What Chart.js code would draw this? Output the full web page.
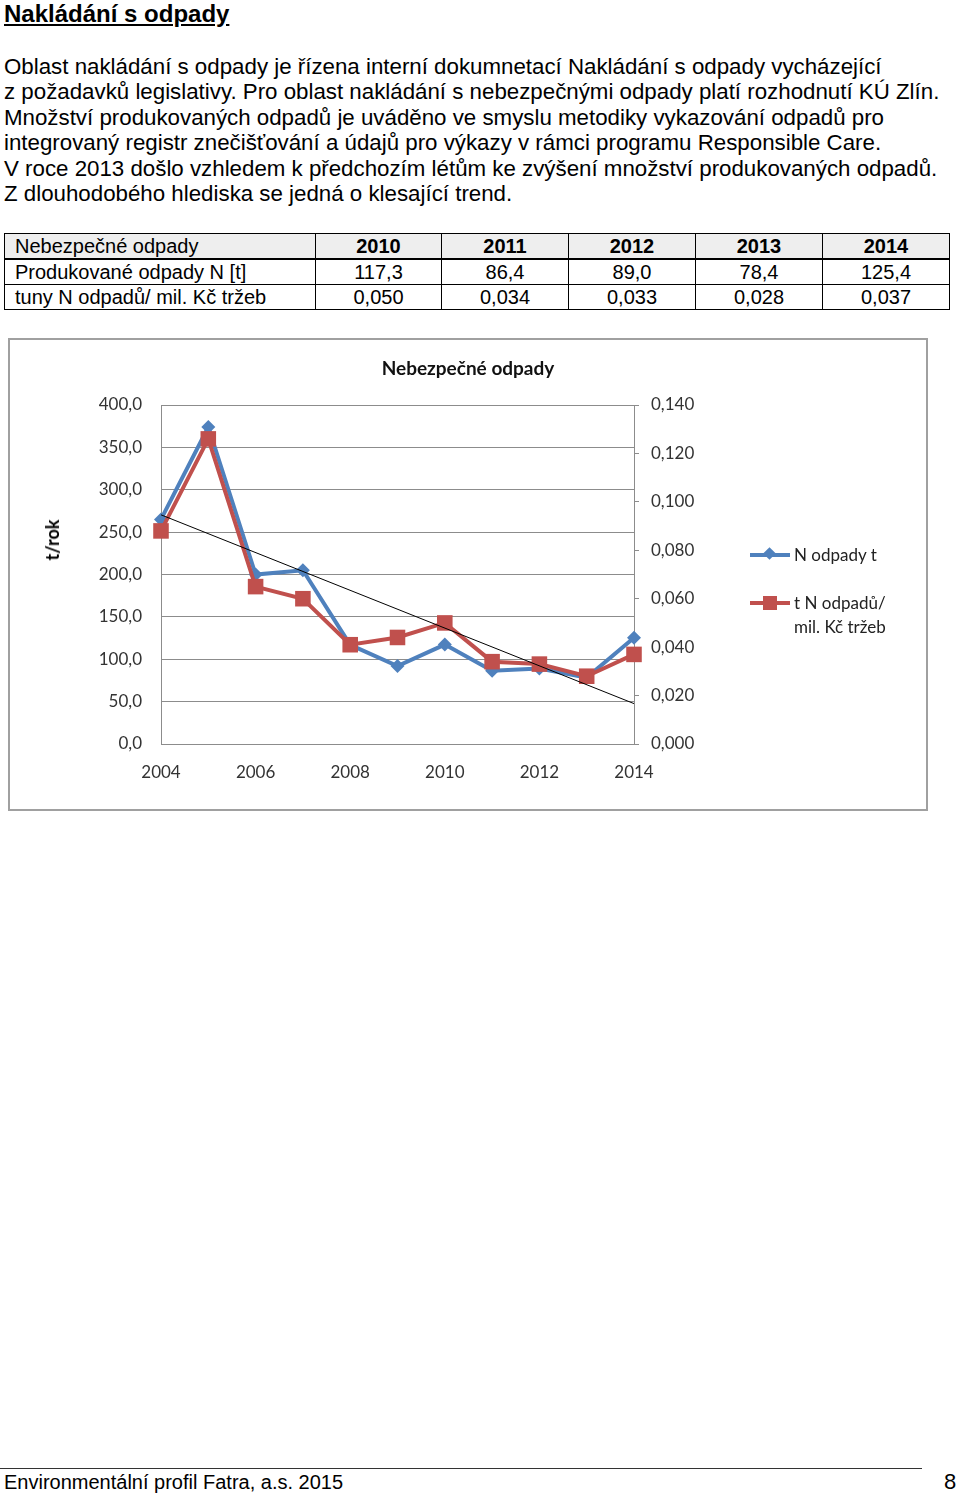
<!DOCTYPE html>
<html lang="cs">
<head>
<meta charset="utf-8">
<title>Nakládání s odpady</title>
<script src="https://cdn.jsdelivr.net/npm/chart.js@4.4.1/dist/chart.umd.min.js"></script>
<style>
  body { margin: 0; width: 960px; height: 1495px; position: relative; background: #fff;
         font-family: "Liberation Sans", Arial, sans-serif; color: #000; }
  .abs { position: absolute; }
  #heading { left: 4px; top: 0px; font-size: 24px; font-weight: bold; text-decoration: underline; line-height: 28px; }
  #para { left: 4px; top: 54px; font-size: 22.3px; line-height: 25.4px; white-space: nowrap; }
  #dataTable { left: 4px; top: 233px; border-collapse: collapse; font-size: 20px; }
  #dataTable td { border: 1px solid #000; height: 24px; padding: 0; text-align: center; line-height: 24px; }
  #dataTable td.first { text-align: left; padding-left: 10px; }
  #dataTable tr.head td { background: #eeeeee; font-weight: bold; border-bottom: 2px solid #000; }
  #dataTable tr.head td.first { font-weight: normal; }
  #chartBox { left: 8px; top: 338px; width: 920px; height: 473px; box-sizing: border-box;
              border: 2px solid #a0a0a0; }
  #chartWrap { left: 10px; top: 340px; width: 916px; height: 469px; }
  #chartTitle { left: 10px; top: 356px; width: 916px; text-align: center; font-family: Lato, sans-serif;
                font-size: 19px; font-weight: bold; color: #111; }
  #yTitle { left: 52px; top: 540px; font-family: Lato, sans-serif; font-size: 18px; font-weight: bold;
            transform: translate(-50%, -50%) rotate(-90deg); white-space: nowrap; }
  .legItem { font-family: Lato, sans-serif; font-size: 17px; color: #222; line-height: 24px; }
  .legLine { position: absolute; left: 0; width: 40px; height: 4px; top: 10px; }
  .legMark { position: absolute; }
  #footLine { left: 0; top: 1468px; width: 922px; height: 1px; background: #333; }
  #footText { left: 4px; top: 1471px; font-size: 20px; }
  #pageNo { left: 944px; top: 1469px; font-size: 22px; }
</style>
</head>
<body>
<div id="heading" class="abs">Nakládání s odpady</div>
<div id="para" class="abs">
Oblast nakládání s odpady je řízena interní dokumnetací Nakládání s odpady vycházející<br>
z požadavků legislativy. Pro oblast nakládání s nebezpečnými odpady platí rozhodnutí KÚ Zlín.<br>
Množství produkovaných odpadů je uváděno ve smyslu metodiky vykazování odpadů pro<br>
integrovaný registr znečišťování a údajů pro výkazy v rámci programu Responsible Care.<br>
V roce 2013 došlo vzhledem k předchozím létům ke zvýšení množství produkovaných odpadů.<br>
Z dlouhodobého hlediska se jedná o klesající trend.
</div>

<table id="dataTable" class="abs"><tbody id="tableBody"></tbody></table>

<div id="chartBox" class="abs"></div>
<div id="chartWrap" class="abs"><canvas id="wasteChart"></canvas></div>
<div id="chartTitle" class="abs">Nebezpečné odpady</div>
<div id="yTitle" class="abs">t/rok</div>

<div class="abs legItem" style="left:750px; top:543px; width:180px; height:24px;">
  <div class="legLine" style="background:#4f81bd"></div>
  <div class="legMark" style="left:15px; top:6px; width:9px; height:9px; background:#4f81bd; transform:rotate(45deg)"></div>
  <div style="position:absolute; left:44px; top:0">N odpady t</div>
</div>
<div class="abs legItem" style="left:750px; top:591px; width:180px; height:48px;">
  <div class="legLine" style="background:#c0504d"></div>
  <div class="legMark" style="left:13px; top:5px; width:14px; height:14px; background:#c0504d"></div>
  <div style="position:absolute; left:44px; top:0; white-space:nowrap">t N odpadů/<br>mil. Kč tržeb</div>
</div>

<div id="footLine" class="abs"></div>
<div id="footText" class="abs">Environmentální profil Fatra, a.s. 2015</div>
<div id="pageNo" class="abs">8</div>

<script>
// DATA
const years = [2004, 2005, 2006, 2007, 2008, 2009, 2010, 2011, 2012, 2013, 2014];
const odpadyT = [265, 374, 200, 205, 117, 92, 117.3, 86.4, 89.0, 78.4, 125.4];
const odpadyNaTrzby = [0.088, 0.126, 0.065, 0.060, 0.041, 0.044, 0.050, 0.034, 0.033, 0.028, 0.037];

const tableYears = [2010, 2011, 2012, 2013, 2014];
const tableProduced = [117.3, 86.4, 89.0, 78.4, 125.4];
const tableRatio = [0.050, 0.034, 0.033, 0.028, 0.037];

const xTicks = [2004, 2006, 2008, 2010, 2012, 2014];

// HELPERS
const cz = (v, d) => v.toFixed(d).replace(".", ",");

// TABLE
const colW = [311, 126, 127, 127, 127, 127];
const rows = [
  ["Nebezpečné odpady", ...tableYears.map(String)],
  ["Produkované odpady N [t]", ...tableProduced.map(v => cz(v, 1))],
  ["tuny N odpadů/ mil. Kč tržeb", ...tableRatio.map(v => cz(v, 3))]
];
document.getElementById("tableBody").innerHTML = rows.map((r, i) => `
  <tr class="${i === 0 ? "head" : ""}">
    ${r.map((c, j) => `<td class="${j === 0 ? "first" : ""}" style="width:${colW[j] - (j === 0 ? 11 : 1)}px">${c}</td>`).join("")}
  </tr>`).join("");

// TREND (linear fit of N odpady t)
const n = years.length;
const mx = years.reduce((a, b) => a + b, 0) / n;
const my = odpadyT.reduce((a, b) => a + b, 0) / n;
let sxy = 0, sxx = 0;
years.forEach((x, i) => { sxy += (x - mx) * (odpadyT[i] - my); sxx += (x - mx) ** 2; });
const slope = sxy / sxx;
const trendLine = [years[0], years[n - 1]].map(x => ({ x, y: my + slope * (x - mx) }));

// CHART
const tickFont = { family: "Lato", size: 17 };
new Chart(document.getElementById("wasteChart"), {
  type: "line",
  data: {
    datasets: [
      {
        label: "trend",
        data: trendLine,
        borderColor: "#000",
        borderWidth: 1,
        pointRadius: 0,
        yAxisID: "y",
        order: 0
      },
      {
        label: "t N odpadů/ mil. Kč tržeb",
        data: years.map((x, i) => ({ x, y: odpadyNaTrzby[i] })),
        borderColor: "#c0504d",
        backgroundColor: "#c0504d",
        borderWidth: 4,
        pointStyle: "rect",
        pointRadius: 11,
        pointBorderWidth: 0,
        clip: false,
        yAxisID: "y1",
        order: 1
      },
      {
        label: "N odpady t",
        data: years.map((x, i) => ({ x, y: odpadyT[i] })),
        borderColor: "#4f81bd",
        backgroundColor: "#4f81bd",
        borderWidth: 4,
        pointStyle: "rectRot",
        pointRadius: 7,
        pointBorderWidth: 0,
        clip: false,
        yAxisID: "y",
        order: 2
      }
    ]
  },
  options: {
    responsive: true,
    maintainAspectRatio: false,
    animation: false,
    layout: { padding: { left: 0, right: 212, top: 65, bottom: 0 } },
    plugins: { legend: { display: false }, tooltip: { enabled: false } },
    scales: {
      x: {
        type: "linear",
        min: 2004,
        max: 2014,
        afterFit: s => { s.height = 65; },
        afterBuildTicks: s => { s.ticks = xTicks.map(v => ({ value: v })); },
        grid: { display: false, drawTicks: false },
        border: { color: "#8c8c8c", width: 1 },
        ticks: { font: tickFont, color: "#333", padding: 18, maxRotation: 0, callback: v => String(v) }
      },
      y: {
        position: "left",
        min: 0,
        max: 400,
        afterFit: s => { s.width = 151; },
        grid: { color: "#8c8c8c", lineWidth: 1, drawTicks: false },
        border: { color: "#8c8c8c", width: 1 },
        ticks: { stepSize: 50, font: tickFont, color: "#333", padding: 19, callback: v => cz(v, 1) }
      },
      y1: {
        position: "right",
        min: 0,
        max: 0.14,
        afterFit: s => { s.width = 80; },
        grid: { drawOnChartArea: false, color: "#8c8c8c", tickLength: 5 },
        border: { color: "#8c8c8c", width: 1 },
        ticks: { stepSize: 0.02, font: tickFont, color: "#333", padding: 12, callback: v => cz(v, 3) }
      }
    }
  }
});
</script>
</body>
</html>
